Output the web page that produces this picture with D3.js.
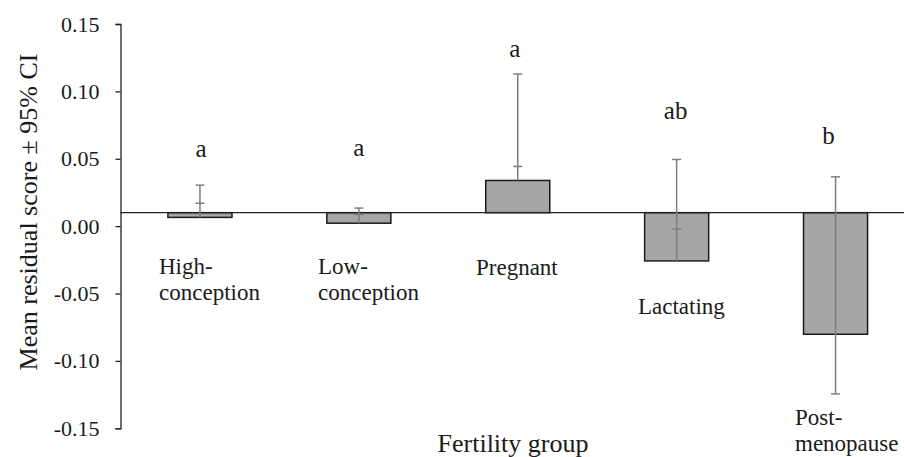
<!DOCTYPE html>
<html>
<head>
<meta charset="utf-8">
<script src="https://cdn.jsdelivr.net/npm/d3@7"></script>
<style>
  html, body { margin: 0; padding: 0; background: #fff; }
  svg { display: block; }
  svg text, svg tspan { font-family: "Liberation Serif", "Times New Roman", Times, serif !important; }
</style>
</head>
<body>
<script>
// ---- data ----
const categories = ["High-conception", "Low-conception", "Pregnant", "Lactating", "Post-menopause"];
const labelLines = [["High-", "conception"], ["Low-", "conception"], ["Pregnant"], ["Lactating"], ["Post-", "menopause"]];
const meanValues = [0.0065, 0.0022, 0.0339, -0.0258, -0.0802];
const ciUpper    = [0.0304, 0.0134, 0.1129, 0.0495, 0.0366];
const ciLower    = [0.0170, 0.0087, 0.0443, -0.0022, -0.1245];
const groupLetters = ["a", "a", "a", "ab", "b"];
const letterLevel  = [0.0512, 0.0520, 0.1257, 0.0795, 0.0609];
const baselineValue = 0.01;
const yTicks = [-0.15, -0.10, -0.05, 0.00, 0.05, 0.10, 0.15];
const yTitle = "Mean residual score \u00b1 95% CI";
const xTitle = "Fertility group";

// ---- layout ----
const W = 904, H = 457;
const FONT = '"Liberation Serif", "Times New Roman", Times, serif';
// label positions (left x of text block, first-line baseline y)
const labelPos = [[159, 274], [318, 274], [476, 275], [638, 314], [795, 425]];
const letterDx = [1, 0, -3, -1, -7];

const svg = d3.select("body").append("svg").attr("width", W).attr("height", H)
  .style("font-family", FONT);

const x = d3.scaleBand().domain(categories).range([120.5, 915]).paddingInner(0.597).paddingOuter(0.2985);
const y = d3.scaleLinear().domain([-0.15, 0.15]).range([428.3, 24]);

// y axis
const yAxis = d3.axisLeft(y).tickValues(yTicks).tickSize(5).tickPadding(16)
  .tickFormat(d => d3.format(".2f")(d).replace("\u2212", "-"));
const gy = svg.append("g").attr("transform", "translate(120.5,0)").call(yAxis)
  .attr("font-family", null).attr("font-size", null);
gy.select(".domain").attr("stroke", "#222").attr("stroke-width", 1.3);
gy.selectAll(".tick line").attr("stroke", "#222").attr("stroke-width", 1.3);
gy.selectAll(".tick text").style("font-size", "22px").style("font-family", FONT).attr("fill", "#1a1a1a");

// bars
const data = categories.map((c, i) => ({ c, v: meanValues[i], hi: ciUpper[i], lo: ciLower[i], i }));
svg.append("g").selectAll("rect").data(data).join("rect")
  .attr("x", d => x(d.c))
  .attr("width", x.bandwidth())
  .attr("y", d => y(Math.max(d.v, baselineValue)))
  .attr("height", d => Math.abs(y(d.v) - y(baselineValue)))
  .attr("fill", "#a6a6a6")
  .attr("stroke", "#1a1a1a")
  .attr("stroke-width", 1.5);

// baseline
svg.append("line")
  .attr("x1", 120.5).attr("x2", W)
  .attr("y1", y(baselineValue)).attr("y2", y(baselineValue))
  .attr("stroke", "#222").attr("stroke-width", 1.3);

// error bars
const eb = svg.append("g").attr("stroke", "#7f7f7f").attr("stroke-width", 1.5);
data.forEach(d => {
  const cx = x(d.c) + x.bandwidth() / 2;
  eb.append("line").attr("x1", cx).attr("x2", cx)
    .attr("y1", y(d.hi)).attr("y2", y(Math.min(d.v, d.lo)));
  [d.hi, d.lo].forEach(v => {
    eb.append("line").attr("x1", cx - 4.5).attr("x2", cx + 4.5)
      .attr("y1", y(v)).attr("y2", y(v));
  });
});

// group letters
svg.append("g").selectAll("text").data(data).join("text")
  .attr("x", d => x(d.c) + x.bandwidth() / 2 + letterDx[d.i])
  .attr("y", d => y(letterLevel[d.i]))
  .attr("text-anchor", "middle")
  .style("font-family", FONT)
  .style("font-size", "25px")
  .attr("fill", "#1a1a1a")
  .text(d => groupLetters[d.i]);

// category labels
data.forEach(d => {
  const t = svg.append("text")
    .attr("x", labelPos[d.i][0]).attr("y", labelPos[d.i][1])
    .style("font-family", FONT)
    .style("font-size", "23px")
    .attr("fill", "#1a1a1a");
  labelLines[d.i].forEach((ln, k) => {
    t.append("tspan").attr("x", labelPos[d.i][0]).attr("dy", k === 0 ? 0 : 26)
      .style("font-family", FONT).text(ln);
  });
});

// axis titles
svg.append("text")
  .attr("transform", "translate(37,212) rotate(-90)")
  .attr("text-anchor", "middle")
  .style("font-family", FONT)
  .style("font-size", "26px")
  .attr("fill", "#1a1a1a")
  .text(yTitle);

svg.append("text")
  .attr("x", 513).attr("y", 452)
  .attr("text-anchor", "middle")
  .style("font-family", FONT)
  .style("font-size", "26px")
  .attr("fill", "#1a1a1a")
  .text(xTitle);
</script>
</body>
</html>
